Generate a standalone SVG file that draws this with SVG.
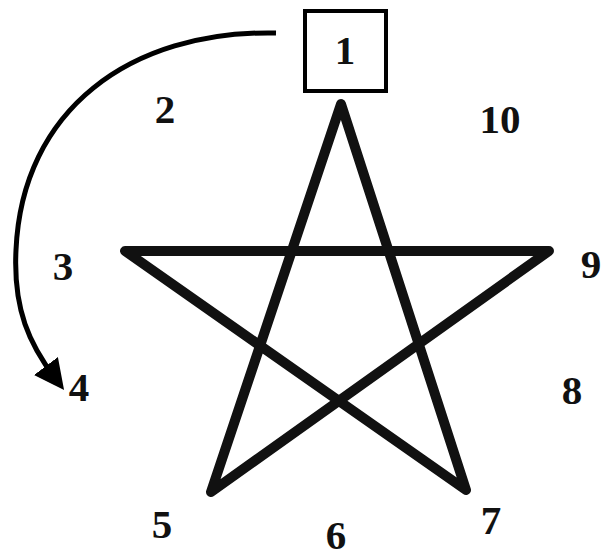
<svg xmlns="http://www.w3.org/2000/svg" width="605" height="559" viewBox="0 0 605 559">
<style>
.num{font-family:"Liberation Serif","Times New Roman",serif;font-weight:bold;font-size:41px;fill:#111;text-anchor:middle}
.star{fill:none;stroke:#111;stroke-width:10;stroke-linejoin:round}
.conn{fill:none;stroke:#000;stroke-width:5}
</style>
<defs>
<marker id="ah" markerWidth="6" markerHeight="6" refX="3" refY="3" orient="auto" markerUnits="strokeWidth">
<path d="M0,0 L6,3 L0,6 Z" fill="#000"/>
</marker>
</defs>
<rect width="605" height="559" fill="#fff"/>
<g id="star">
<path class="star" d="M341,104 L466,490 L125,251 L549,251 L211,492 Z"/>
</g>
<g id="n1"><rect x="305" y="11" width="81" height="80" fill="none" stroke="#000" stroke-width="4"/><text class="num" x="345" y="64">1</text></g>
<g id="n2"><text class="num" x="165" y="123">2</text></g>
<g id="n3"><text class="num" x="63" y="280">3</text></g>
<g id="n4"><text class="num" x="79" y="401">4</text></g>
<g id="n5"><text class="num" x="162" y="538">5</text></g>
<g id="n6"><text class="num" x="336" y="549">6</text></g>
<g id="n7"><text class="num" x="491" y="534">7</text></g>
<g id="n8"><text class="num" x="572" y="404">8</text></g>
<g id="n9"><text class="num" x="591" y="278">9</text></g>
<g id="n10"><text class="num" x="500" y="133">10</text></g>
<g id="connectors">
<path class="conn" d="M276,33 C130,30 22,110 16,250 C13,310 30,345 55,378" marker-end="url(#ah)"/>
</g>
</svg>
